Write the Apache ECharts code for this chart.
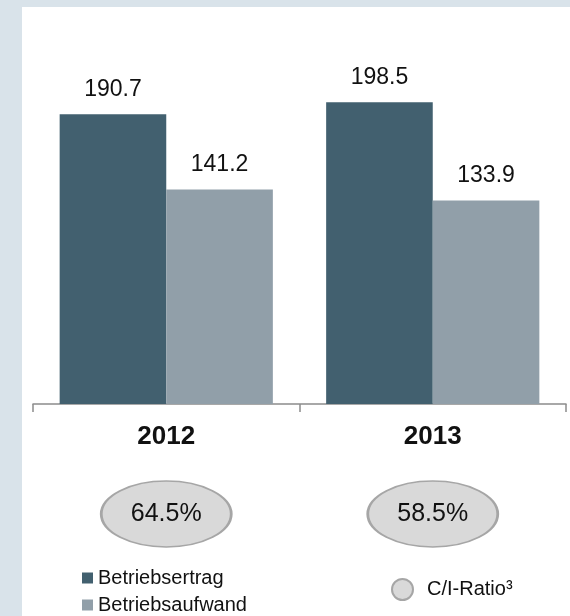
<!DOCTYPE html>
<html>
<head>
<meta charset="utf-8">
<script src="https://cdn.jsdelivr.net/npm/echarts@6/dist/echarts.min.js"></script>
<style>
html,body{margin:0;padding:0;}
#chart{width:570px;height:616px;}
</style>
</head>
<body>
<div id="chart"></div>
<script>
var years = ['2012', '2013'];
var betriebsertrag = [190.7, 198.5];
var betriebsaufwand = [141.2, 133.9];
var ciRatio = [64.5, 58.5];
var seriesNames = ['Betriebsertrag', 'Betriebsaufwand', 'C/I-Ratio³'];

var FONT = '"Liberation Sans", Arial, sans-serif';
var chart = echarts.init(document.getElementById('chart'));

var legendText = { fontSize: 20, color: '#111', fontFamily: FONT };

var option = {
  backgroundColor: '#d9e3ea',
  animation: false,
  textStyle: { fontFamily: FONT },
  graphic: [{
    type: 'rect',
    z: -100,
    shape: { x: 22, y: 7, width: 548, height: 609 },
    style: { fill: '#ffffff' }
  }],
  grid: [
    { left: 33, right: 4, top: 24, bottom: 212 },
    { left: 33, right: 4, top: 481, height: 66 }
  ],
  xAxis: [
    {
      type: 'category', gridIndex: 0, data: years,
      axisLine: { lineStyle: { color: '#8c8c8c', width: 1.5 } },
      axisTick: { show: true, length: 8, lineStyle: { color: '#8c8c8c', width: 1.5 } },
      axisLabel: { margin: 20, fontSize: 26, fontWeight: 'bold', color: '#111', fontFamily: FONT }
    },
    {
      type: 'category', gridIndex: 1, data: years,
      axisLine: { show: false }, axisTick: { show: false }, axisLabel: { show: false }
    }
  ],
  yAxis: [
    { type: 'value', gridIndex: 0, min: 0, max: 250, show: false, splitLine: { show: false } },
    { type: 'category', gridIndex: 1, data: ['C/I'], show: false }
  ],
  legend: [
    {
      data: [seriesNames[0]],
      left: 77, top: 563, icon: 'rect',
      itemWidth: 11, itemHeight: 11,
      textStyle: legendText
    },
    {
      data: [seriesNames[1]],
      left: 77, top: 590, icon: 'rect',
      itemWidth: 11, itemHeight: 11,
      textStyle: legendText
    },
    {
      data: [seriesNames[2]],
      left: 386, top: 573, icon: 'circle',
      itemWidth: 21, itemHeight: 21,
      textStyle: { fontSize: 20, color: '#111', fontFamily: FONT, padding: [0, 0, 0, 9] }
    }
  ],
  series: [
    {
      name: seriesNames[0], type: 'bar', xAxisIndex: 0, yAxisIndex: 0,
      data: betriebsertrag, barGap: '0%', barCategoryGap: '20%',
      itemStyle: { color: '#42606f' },
      label: { show: true, position: 'top', distance: 13, fontSize: 23, color: '#111', fontFamily: FONT,
        formatter: function (p) { return p.value.toFixed(1); } }
    },
    {
      name: seriesNames[1], type: 'bar', xAxisIndex: 0, yAxisIndex: 0,
      data: betriebsaufwand, barGap: '0%', barCategoryGap: '20%',
      itemStyle: { color: '#919fa9' },
      label: { show: true, position: 'top', distance: 13, fontSize: 23, color: '#111', fontFamily: FONT,
        formatter: function (p) { return p.value.toFixed(1); } }
    },
    {
      name: seriesNames[2], type: 'scatter', xAxisIndex: 1, yAxisIndex: 1,
      symbol: 'circle', symbolSize: [130, 66],
      data: years.map(function (y, i) { return [i, 0, ciRatio[i]]; }),
      itemStyle: { color: '#d9d9d9', borderColor: '#a6a6a6', borderWidth: 2, opacity: 1 },
      label: { show: true, position: 'inside', fontSize: 25, color: '#111', fontFamily: FONT,
        formatter: function (p) { return p.value[2].toFixed(1) + '%'; } },
      emphasis: { disabled: true }
    }
  ]
};
chart.setOption(option);
</script>
</body>
</html>
